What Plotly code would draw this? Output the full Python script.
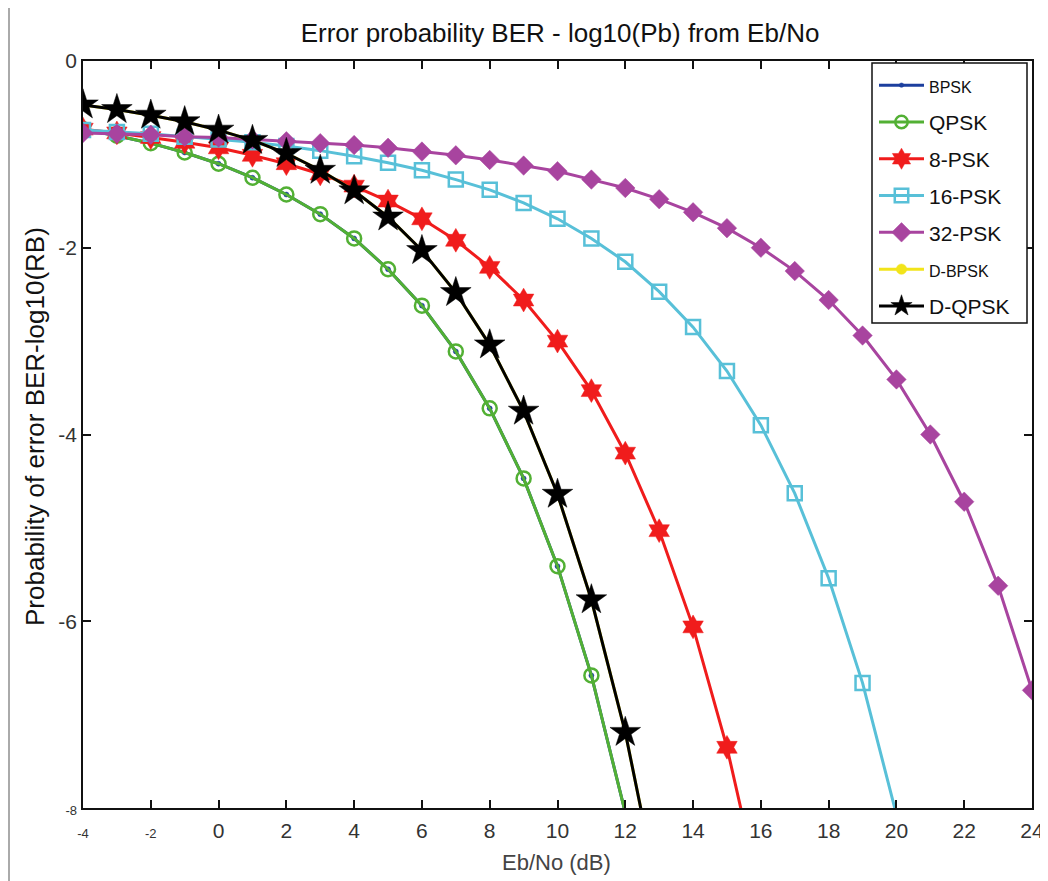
import plotly.graph_objects as go

# Eb/No (dB) sample points
ebno_qpsk = [-4, -3, -2, -1, 0, 1, 2, 3, 4, 5, 6, 7, 8, 9, 10, 11, 12, 13]
ber_bpsk = [-0.73, -0.80, -0.88, -0.98, -1.10, -1.25, -1.43, -1.64, -1.90, -2.23, -2.62, -3.11, -3.72, -4.47, -5.41, -6.58, -8.05, -9.95]
ber_qpsk = [-0.73, -0.80, -0.88, -0.98, -1.10, -1.25, -1.43, -1.64, -1.90, -2.23, -2.62, -3.11, -3.72, -4.47, -5.41, -6.58, -8.05, -9.95]

ebno_8psk = [-4, -3, -2, -1, 0, 1, 2, 3, 4, 5, 6, 7, 8, 9, 10, 11, 12, 13, 14, 15, 16]
ber_8psk = [-0.73, -0.77, -0.82, -0.87, -0.93, -1.01, -1.10, -1.21, -1.34, -1.50, -1.69, -1.92, -2.21, -2.56, -3.00, -3.53, -4.20, -5.03, -6.06, -7.35, -8.95]

ebno_16psk = [-4, -3, -2, -1, 0, 1, 2, 3, 4, 5, 6, 7, 8, 9, 10, 11, 12, 13, 14, 15, 16, 17, 18, 19, 20]
ber_16psk = [-0.74, -0.76, -0.78, -0.81, -0.84, -0.87, -0.91, -0.96, -1.02, -1.09, -1.17, -1.27, -1.38, -1.52, -1.69, -1.90, -2.15, -2.47, -2.85, -3.32, -3.90, -4.63, -5.54, -6.66, -8.07]

ebno_32psk = [-4, -3, -2, -1, 0, 1, 2, 3, 4, 5, 6, 7, 8, 9, 10, 11, 12, 13, 14, 15, 16, 17, 18, 19, 20, 21, 22, 23, 24]
ber_32psk = [-0.77, -0.78, -0.79, -0.81, -0.82, -0.84, -0.86, -0.88, -0.90, -0.93, -0.97, -1.01, -1.06, -1.12, -1.18, -1.27, -1.36, -1.48, -1.62, -1.79, -2.00, -2.25, -2.56, -2.94, -3.41, -4.00, -4.72, -5.62, -6.74]

ebno_dpsk = [-4, -3, -2, -1, 0, 1, 2, 3, 4, 5, 6, 7, 8, 9, 10, 11, 12, 13]
ber_dbpsk = [-0.47, -0.52, -0.58, -0.65, -0.74, -0.85, -0.99, -1.17, -1.39, -1.67, -2.03, -2.48, -3.04, -3.75, -4.64, -5.77, -7.19, -8.97]
ber_dqpsk = [-0.47, -0.52, -0.58, -0.65, -0.74, -0.85, -0.99, -1.17, -1.39, -1.67, -2.03, -2.48, -3.04, -3.75, -4.64, -5.77, -7.19, -8.97]

x_ticks = [-4, -2, 0, 2, 4, 6, 8, 10, 12, 14, 16, 18, 20, 22, 24]
y_ticks = [0, -2, -4, -6, -8]
Y_MIN, Y_MAX = -8, 0

small = '<span style="font-size:13px">{}</span>'
x_ticktext = [small.format(v) if v < 0 else str(v) for v in x_ticks]
y_ticktext = [small.format(v) if v == -8 else str(v) for v in y_ticks]

FONT = "Liberation Sans, Arial, Helvetica, sans-serif"
legsmall = '<span style="font-size:16px">{}</span>'

series = [
    dict(name=legsmall.format("BPSK"), x=ebno_qpsk, y=ber_bpsk, color="#1c3f9e",
         symbol="circle", size=5, lw=3),
    dict(name="QPSK", x=ebno_qpsk, y=ber_qpsk, color="#52b034",
         symbol="circle-open", size=14, lw=3),
    dict(name="8-PSK", x=ebno_8psk, y=ber_8psk, color="#f01c1c",
         symbol="hexagram", size=18, lw=3),
    dict(name="16-PSK", x=ebno_16psk, y=ber_16psk, color="#58c0d8",
         symbol="square-open", size=14, lw=3),
    dict(name="32-PSK", x=ebno_32psk, y=ber_32psk, color="#a8449f",
         symbol="diamond", size=15, lw=3),
    dict(name=legsmall.format("D-BPSK"), x=ebno_dpsk, y=ber_dbpsk, color="#f2e41a",
         symbol="circle", size=11, lw=3),
    dict(name="D-QPSK", x=ebno_dpsk, y=ber_dqpsk, color="#000000",
         symbol="star", size=23, lw=3),
]

fig = go.Figure()
for i, s in enumerate(series):
    # markers of points that fall outside the visible y range are hidden
    sizes = [s["size"] if v >= Y_MIN else 0 for v in s["y"]]
    mk = dict(symbol=s["symbol"], size=sizes, color=s["color"], opacity=1)
    if s["symbol"].endswith("open"):
        mk["line"] = dict(color=s["color"], width=2.5)
    else:
        mk["line"] = dict(color=s["color"], width=0.5)
    fig.add_trace(go.Scatter(
        x=s["x"], y=s["y"], name=s["name"], mode="lines+markers",
        line=dict(color=s["color"], width=s["lw"]),
        marker=mk, legendgroup=f"g{i}", cliponaxis=True,
    ))

# page has an 8px body margin; layout below is set in screenshot pixels
OFF = 8
W, H = 1040, 873
L, R, T, B = 83 - OFF, 16, 61 - OFF, 881 - 808
PW, PH = W - L - R, H - T - B

def px_x(p):
    return (p - OFF - L) / PW

def px_y(p):
    return (H - B - (p - OFF)) / PH

fig.update_layout(
    width=W, height=H,
    margin=dict(l=L, r=R, t=T, b=B, autoexpand=False),
    paper_bgcolor="white", plot_bgcolor="white",
    font=dict(family=FONT, size=21, color="#222222"),
    title=dict(text="Error probability BER - log10(Pb) from Eb/No",
               x=(560 - OFF) / W, xanchor="center", y=1 - (33 - OFF) / H, yanchor="middle",
               font=dict(size=26, color="#111111")),
    showlegend=True,
    legend=dict(
        x=px_x(874), xanchor="left", y=px_y(65), yanchor="top",
        borderwidth=0, bgcolor="rgba(0,0,0,0)",
        font=dict(size=21, color="#111111"), tracegroupgap=6.5,
        traceorder="grouped", itemwidth=45,
    ),
    xaxis=dict(
        range=[-4, 24], tickmode="array", tickvals=x_ticks, ticktext=x_ticktext,
        ticks="inside", ticklen=8, tickwidth=1.5, tickcolor="#111111",
        showline=True, linecolor="#111111", linewidth=1.5, mirror="ticks",
        showgrid=False, zeroline=False, automargin=False, ticklabelstandoff=3,
        tickfont=dict(size=21, color="#333333"),
    ),
    yaxis=dict(
        range=[Y_MIN, Y_MAX], tickmode="array", tickvals=y_ticks, ticktext=y_ticktext,
        ticks="inside", ticklen=8, tickwidth=1.5, tickcolor="#111111",
        showline=True, linecolor="#111111", linewidth=1.5, mirror="ticks",
        showgrid=False, zeroline=False, automargin=False,
        tickfont=dict(size=21, color="#333333"),
    ),
    annotations=[
        dict(text="Eb/No (dB)", xref="paper", yref="paper", x=px_x(556), y=px_y(862),
             xanchor="center", yanchor="middle", showarrow=False,
             font=dict(size=22, color="#444444")),
        dict(text="Probability of error BER-log10(RB)", xref="paper", yref="paper",
             x=px_x(35), y=px_y(427), xanchor="center", yanchor="middle",
             textangle=-90, showarrow=False, font=dict(size=26, color="#111111")),
    ],
)

# legend box (white panel with black frame) behind the legend entries
fig.add_shape(type="rect", xref="paper", yref="paper",
              x0=px_x(872), x1=px_x(1027), y0=px_y(323), y1=px_y(63),
              line=dict(color="#111111", width=1.5), fillcolor="white", layer="above")

# outer light-gray frame of the original figure window
fig.add_shape(type="rect", xref="paper", yref="paper",
              x0=px_x(9), x1=px_x(1070), y0=px_y(900), y1=px_y(5),
              line=dict(color="#aaaaaa", width=2), fillcolor="rgba(0,0,0,0)", layer="below")

fig.write_html("out.html")
